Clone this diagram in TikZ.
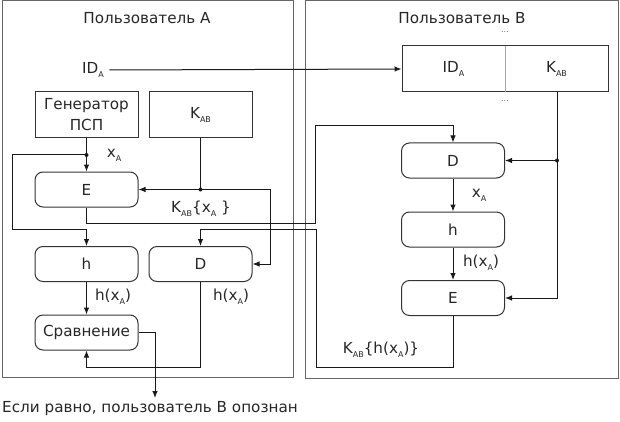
\documentclass[tikz,border=0pt]{standalone}
\usepackage{fontspec}
\setmainfont{DejaVu Sans}
\usetikzlibrary{arrows.meta}
\newcommand\sbs[1]{\raisebox{-0.45ex}{\fontsize{8}{8}\selectfont #1}}
\begin{document}
\begin{tikzpicture}[x=1pt,y=-1pt,
 font=\fontsize{15.2}{21}\selectfont, text=black!85,
 frame/.style={draw=black!60, line width=1pt},
 sqbox/.style={draw=black!80, line width=1pt, minimum width=103pt, minimum height=46pt, inner sep=0pt, align=center},
 rbox/.style={draw=black!80, line width=1pt, rounded corners=8pt, minimum width=103pt, minimum height=35pt, inner sep=0pt},
 cell/.style={minimum width=103pt, minimum height=46pt, inner sep=0pt},
 conn/.style={draw=black!90, line width=1pt},
 arr/.style={conn, -{Latex[length=7pt,width=5.5pt]}},
 jdot/.style={circle, fill=black!90, inner sep=0pt, minimum size=4pt},
 dots/.style={font=\fontsize{8}{8}\selectfont, text=black!60},
]
\useasboundingbox (0,0) rectangle (620,422);
\draw[frame] (2,1) rectangle (293,377);
\draw[frame] (305,1) rectangle (618,378);
\node (tA) at (147,18) {Пользователь A};
\node (tB) at (462,18) {Пользователь B};

% user A
\node (idA) at (93,70) {ID\sbs{A}};
\node[sqbox] (gen) at (86.5,115) {Генератор\\ПСП};
\node[sqbox] (kab) at (200.5,115) {K\sbs{AB}};
\node[rbox] (EA) at (86.5,189.5) {E};
\node[rbox] (hA) at (86.5,264) {h};
\node[rbox] (DA) at (200.5,264) {D};
\node[rbox] (cmp) at (86.5,332.5) {Сравнение};
\node[anchor=north] (res) at (150,398) {Если равно, пользователь В опознан};

% user B
\node[draw=black!80, line width=1pt, minimum width=206pt, minimum height=46pt, inner sep=0pt] (tab) at (505,69) {};
\node[cell] (cid) at (453.5,69) {ID\sbs{A}};
\node[cell] (ckab) at (556.5,69) {K\sbs{AB}};
\draw[black!35, line width=0.6pt] (cid.north east) -- (cid.south east);
\node[dots] (d1) at (505,32) {...};
\node[dots] (d2) at (505,101) {...};
\node[rbox] (DB) at (453,160.5) {D};
\node[rbox] (hB) at (453,229.5) {h};
\node[rbox] (EB) at (453,298) {E};

% coordinates
\coordinate (jx) at (86.5,155);
\coordinate (jk) at (200.5,189.5);
\coordinate (jb) at (557,160.5);
\coordinate (c1) at (453,126);
\coordinate (c2) at (200.5,229);
\coordinate (c3) at (86.5,367);

% connectors A
\draw[arr] ([xshift=2pt]idA.east) -- (tab.west);
\draw[arr] (gen.south) -- (EA.north);
\draw[arr] (jx) -| (12,229) -| (hA.north);
\node[jdot] at (jx) {};
\node (lxA) at (114,155) {x\sbs{A}};
\draw[conn] (kab.south) -- (jk);
\draw[arr] (jk) -- (EA.east);
\draw[arr] (jk) -| (270,264) -- (DA.east);
\node[jdot] at (jk) {};
\node (lkx) at (201,209) {K\sbs{AB}\{x\sbs{A} \}};
\draw[arr] (EA.south) |- (315,223) |- (c1) -- (DB.north);
\draw[arr] (EB.south) |- (316,367) |- (c2) -- (DA.north);
\draw[arr] (hA.south) -- (cmp.north);
\node (lh1) at (113,297) {h(x\sbs{A})};
\draw[arr] (DA.south) |- (c3) -- (cmp.south);
\node (lh2) at (231,297) {h(x\sbs{A})};
\draw[arr] (cmp.east) -| ([xshift=5pt]res.north);

% connectors B
\draw[conn] (jb |- ckab.south) -- (jb);
\draw[arr] (jb) -- (DB.east);
\draw[arr] (jb) |- (EB.east);
\node[jdot] at (jb) {};
\draw[arr] (DB.south) -- (hB.north);
\node (lxB) at (479,195) {x\sbs{A}};
\draw[arr] (hB.south) -- (EB.north);
\node (lhB) at (481,263) {h(x\sbs{A})};
\node (lkh) at (381,350) {K\sbs{AB}\{h(x\sbs{A})\}};
\end{tikzpicture}
\end{document}
